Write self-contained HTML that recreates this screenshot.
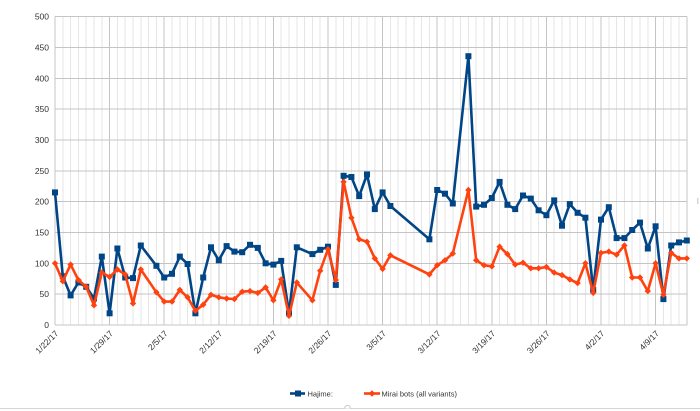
<!DOCTYPE html>
<html><head><meta charset="utf-8"><style>
html,body{margin:0;padding:0;background:#fff;}
svg{display:block;font-family:"Liberation Sans",Arial,sans-serif;}
</style></head><body>
<svg width="700" height="411" viewBox="0 0 700 411" xmlns="http://www.w3.org/2000/svg">
<defs>
<marker id="sq" markerUnits="userSpaceOnUse" markerWidth="8" markerHeight="8" refX="4" refY="4"><rect x="1" y="1" width="6" height="6" fill="#004586"/></marker>
<marker id="dm" markerUnits="userSpaceOnUse" markerWidth="8" markerHeight="8" refX="4" refY="4"><path d="M4 0.8 L7.2 4 L4 7.2 L0.8 4Z" fill="#ff420e"/></marker>
</defs>
<rect width="700" height="411" fill="#fff"/>
<g id="vgrid" stroke-width="1" shape-rendering="crispEdges">
<g stroke="#e6e6e6">
<path d="M62.8 16.7V325M70.6 16.7V325M78.4 16.7V325M86.2 16.7V325M94 16.7V325M101.8 16.7V325M117.4 16.7V325M125.2 16.7V325M133 16.7V325M140.8 16.7V325M148.6 16.7V325M156.4 16.7V325M172 16.7V325M179.8 16.7V325M187.6 16.7V325M195.4 16.7V325M203.2 16.7V325M211 16.7V325M226.6 16.7V325M234.4 16.7V325M242.2 16.7V325M250 16.7V325M257.8 16.7V325M265.6 16.7V325M281.2 16.7V325M289 16.7V325M296.8 16.7V325M304.6 16.7V325M312.4 16.7V325M320.2 16.7V325M335.8 16.7V325M343.6 16.7V325M351.4 16.7V325M359.2 16.7V325M367 16.7V325M374.8 16.7V325M390.4 16.7V325M398.2 16.7V325M406 16.7V325M413.8 16.7V325M421.6 16.7V325M429.4 16.7V325M445 16.7V325M452.8 16.7V325M460.6 16.7V325M468.4 16.7V325M476.2 16.7V325M484 16.7V325M499.6 16.7V325M507.4 16.7V325M515.2 16.7V325M523 16.7V325M530.8 16.7V325M538.6 16.7V325M554.2 16.7V325M562 16.7V325M569.8 16.7V325M577.6 16.7V325M585.4 16.7V325M593.2 16.7V325M608.8 16.7V325M616.6 16.7V325M624.4 16.7V325M632.2 16.7V325M640 16.7V325M647.8 16.7V325M663.4 16.7V325M671.2 16.7V325M679 16.7V325"/>
</g>
<g stroke="#c4c4c4">
<path d="M55 16.7V325M109.6 16.7V325M164.2 16.7V325M218.8 16.7V325M273.4 16.7V325M328 16.7V325M382.6 16.7V325M437.2 16.7V325M491.8 16.7V325M546.4 16.7V325M601 16.7V325M655.6 16.7V325M686.8 16.7V325"/>
<path d="M55 16.7H687M55 47.5H687M55 78.3H687M55 109.2H687M55 140H687M55 170.8H687M55 201.7H687M55 232.5H687M55 263.3H687M55 294.2H687M55 325H687"/>
</g>
</g>
<g font-size="8.5" fill="#333" text-anchor="end">
<text x="49" y="19.7">500</text>
<text x="49" y="50.5">450</text>
<text x="49" y="81.3">400</text>
<text x="49" y="112.2">350</text>
<text x="49" y="143">300</text>
<text x="49" y="173.8">250</text>
<text x="49" y="204.7">200</text>
<text x="49" y="235.5">150</text>
<text x="49" y="266.3">100</text>
<text x="49" y="297.2">50</text>
<text x="49" y="328">0</text>
</g>
<g font-size="8.5" fill="#333" text-anchor="end">
<text transform="translate(59,334) rotate(-45)">1/22/17</text>
<text transform="translate(113.6,334) rotate(-45)">1/29/17</text>
<text transform="translate(168.2,334) rotate(-45)">2/5/17</text>
<text transform="translate(222.8,334) rotate(-45)">2/12/17</text>
<text transform="translate(277.4,334) rotate(-45)">2/19/17</text>
<text transform="translate(332,334) rotate(-45)">2/26/17</text>
<text transform="translate(386.6,334) rotate(-45)">3/5/17</text>
<text transform="translate(441.2,334) rotate(-45)">3/12/17</text>
<text transform="translate(495.8,334) rotate(-45)">3/19/17</text>
<text transform="translate(550.4,334) rotate(-45)">3/26/17</text>
<text transform="translate(605,334) rotate(-45)">4/2/17</text>
<text transform="translate(659.6,334) rotate(-45)">4/9/17</text>
</g>
<polyline fill="none" stroke="#004586" stroke-width="2.6" stroke-linejoin="round" marker-start="url(#sq)" marker-mid="url(#sq)" marker-end="url(#sq)" points="55,192.4 62.8,276.3 70.6,295.4 78.4,282.5 86.2,286.8 94,298.5 101.8,256.6 109.6,313.3 117.4,248.5 125.2,277.5 133,278.1 140.8,245.5 156.4,265.8 164.2,277.5 172,273.8 179.8,256.6 187.6,264 195.4,313.3 203.2,277.5 211,247.3 218.8,260.3 226.6,246.1 234.4,251.6 242.2,252.2 250,244.8 257.8,247.9 265.6,263.3 273.4,264.6 281.2,260.9 289,313.3 296.8,247.3 312.4,254.1 320.2,249.8 328,246.7 335.8,284.9 343.6,175.8 351.4,177 359.2,196.1 367,174.5 374.8,209.1 382.6,192.4 390.4,206 429.4,239.3 437.2,190 445,193.7 452.8,203.5 468.4,56.2 476.2,206.6 484,204.8 491.8,198 499.6,181.9 507.4,204.8 515.2,209.1 523,195.5 530.8,198.6 538.6,210.3 546.4,215.2 554.2,200.4 562,225.7 569.8,204.1 577.6,212.8 585.4,217.7 593.2,289.9 601,219.6 608.8,207.2 616.6,238.1 624.4,238.1 632.2,230 640,222.6 647.8,248.5 655.6,226.3 663.4,299.1 671.2,245.5 679,242.4 686.8,240.5"/>
<polyline fill="none" stroke="#ff420e" stroke-width="2.6" stroke-linejoin="round" marker-start="url(#dm)" marker-mid="url(#dm)" marker-end="url(#dm)" points="55,263.3 62.8,281.2 70.6,264.6 78.4,280 86.2,286.8 94,305.3 101.8,272.6 109.6,276.9 117.4,269.5 125.2,274.4 133,303.4 140.8,269.5 156.4,292.3 164.2,301.6 172,301.6 179.8,289.9 187.6,297.3 195.4,310.8 203.2,304.7 211,294.8 218.8,297.3 226.6,298.5 234.4,299.1 242.2,291.7 250,291.1 257.8,292.9 265.6,287.4 273.4,300.3 281.2,279.4 289,315.8 296.8,282.5 312.4,300.3 320.2,270.7 328,249.2 335.8,280 343.6,181.9 351.4,217.7 359.2,239.3 367,241.8 374.8,258.4 382.6,268.9 390.4,255.3 429.4,274.4 437.2,265.2 445,260.3 452.8,253.5 468.4,190 476.2,260.3 484,265.2 491.8,266.4 499.6,246.7 507.4,254.1 515.2,264.6 523,262.7 530.8,268.3 538.6,268.3 546.4,267 554.2,272.6 562,275.1 569.8,279.4 577.6,283.1 585.4,263.3 593.2,292.9 601,252.9 608.8,251.6 616.6,254.7 624.4,245.5 632.2,277.5 640,277.5 647.8,291.1 655.6,263.3 663.4,294.8 671.2,252.9 679,258.4 686.8,258.4"/>
<g>
<line x1="290" y1="393.5" x2="305" y2="393.5" stroke="#004586" stroke-width="2.6"/>
<rect x="295" y="390.5" width="6" height="6" fill="#004586"/>
<text x="307.5" y="396.3" font-size="7.5" fill="#333">Hajime:</text>
<line x1="364" y1="393.5" x2="380" y2="393.5" stroke="#ff420e" stroke-width="2.6"/>
<path d="M372 390.3 L375.2 393.5 L372 396.7 L368.8 393.5Z" fill="#ff420e"/>
<text x="381.5" y="396.3" font-size="7.5" fill="#333">Mirai bots (all variants)</text>
</g>
<line x1="0" y1="408.5" x2="700" y2="408.5" stroke="#d6d6d6" stroke-width="1"/>
<path d="M344.5 408.5 A3 3 0 0 1 350.5 408.5" fill="#fff" stroke="#c8c8c8" stroke-width="1"/>
<rect x="697" y="198" width="1.5" height="6" fill="#d8d8d8"/>
</svg>
</body></html>
